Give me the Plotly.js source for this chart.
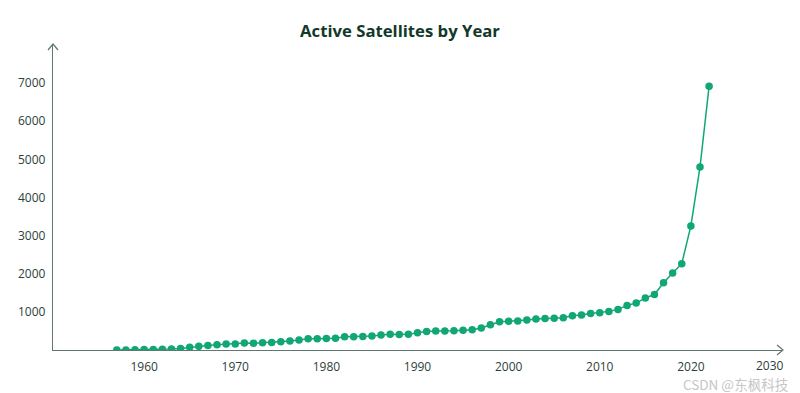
<!DOCTYPE html>
<html>
<head>
<meta charset="utf-8">
<script src="https://cdn.plot.ly/plotly-3.0.1.min.js"></script>
<style>
html, body { margin: 0; padding: 0; background: #fff; }
#chart { width: 800px; height: 393px; }
</style>
</head>
<body>
<div id="chart"></div>
<script>
const years = [1957,1958,1959,1960,1961,1962,1963,1964,1965,1966,1967,1968,1969,1970,1971,1972,1973,1974,1975,1976,1977,1978,1979,1980,1981,1982,1983,1984,1985,1986,1987,1988,1989,1990,1991,1992,1993,1994,1995,1996,1997,1998,1999,2000,2001,2002,2003,2004,2005,2006,2007,2008,2009,2010,2011,2012,2013,2014,2015,2016,2017,2018,2019,2020,2021,2022];
const activeSatellites = [1,3,5,10,15,22,28,38,70,96,120,140,155,158,182,176,192,194,218,236,262,296,298,300,306,348,350,352,368,392,410,405,410,450,485,500,498,506,515,532,576,663,742,751,760,786,812,829,832,847,899,917,960,978,1013,1065,1170,1231,1365,1455,1765,2020,2265,3254,4798,6919];
const xTicks = [1960,1970,1980,1990,2000,2010,2020];
const lastXTick = 2030;
const yTicks = [1000,2000,3000,4000,5000,6000,7000];

const green = '#10a676';
const axisColor = '#5e7770';
const tickColor = '#2c3f39';
const tickFont = { family: 'Open Sans, Noto Sans, sans-serif', size: 12, color: tickColor };

const trace = {
  x: years,
  y: activeSatellites,
  type: 'scatter',
  mode: 'lines+markers',
  line: { color: green, width: 1.5 },
  marker: { color: green, size: 7.5 },
  hoverinfo: 'x+y'
};

const layout = {
  width: 800,
  height: 393,
  margin: { l: 53, r: 18, t: 45, b: 43 },
  paper_bgcolor: '#ffffff',
  plot_bgcolor: '#ffffff',
  showlegend: false,
  title: {
    text: '<b>Active Satellites by Year</b>',
    font: { family: 'Open Sans, Noto Sans, sans-serif', size: 16.7, color: '#12382a' },
    x: 0.5, xanchor: 'center',
    y: 0.92, yanchor: 'middle', yref: 'container'
  },
  xaxis: {
    range: [1950, 2030],
    tickvals: xTicks,
    ticktext: xTicks.map(String),
    showgrid: false,
    zeroline: false,
    showline: true,
    linecolor: axisColor,
    linewidth: 1.2,
    ticks: '',
    ticklabelstandoff: 5,
    tickfont: tickFont,
    fixedrange: true
  },
  yaxis: {
    range: [0, 8000],
    tickvals: yTicks,
    ticktext: yTicks.map(String),
    showgrid: false,
    zeroline: false,
    showline: true,
    linecolor: axisColor,
    linewidth: 1.2,
    ticks: '',
    ticklabelstandoff: 4,
    tickfont: tickFont,
    fixedrange: true
  },
  shapes: [
    {
      type: 'path', xref: 'paper', yref: 'paper',
      xsizemode: 'pixel', ysizemode: 'pixel', xanchor: 1, yanchor: 0,
      path: 'M -5 5 L 1 0 L -5 -5',
      line: { color: axisColor, width: 1.2 }
    },
    {
      type: 'path', xref: 'paper', yref: 'paper',
      xsizemode: 'pixel', ysizemode: 'pixel', xanchor: 0, yanchor: 1,
      path: 'M -5 -5 L 0 1 L 5 -5',
      line: { color: axisColor, width: 1.2 }
    }
  ],
  annotations: [
    {
      text: String(lastXTick),
      xref: 'x', yref: 'paper', x: lastXTick, y: 0,
      xanchor: 'center', yanchor: 'top', yshift: -5, xshift: -12,
      showarrow: false, font: tickFont
    },
    {
      text: 'CSDN @东枫科技',
      xref: 'paper', yref: 'paper', x: 1.012, y: -0.112,
      xanchor: 'right', yanchor: 'middle', showarrow: false,
      font: { family: 'Noto Sans CJK SC, Noto Sans, sans-serif', size: 13.5, color: '#c6c6c6' }
    }
  ]
};

Plotly.newPlot('chart', [trace], layout, { displayModeBar: false, staticPlot: true });
</script>
</body>
</html>
